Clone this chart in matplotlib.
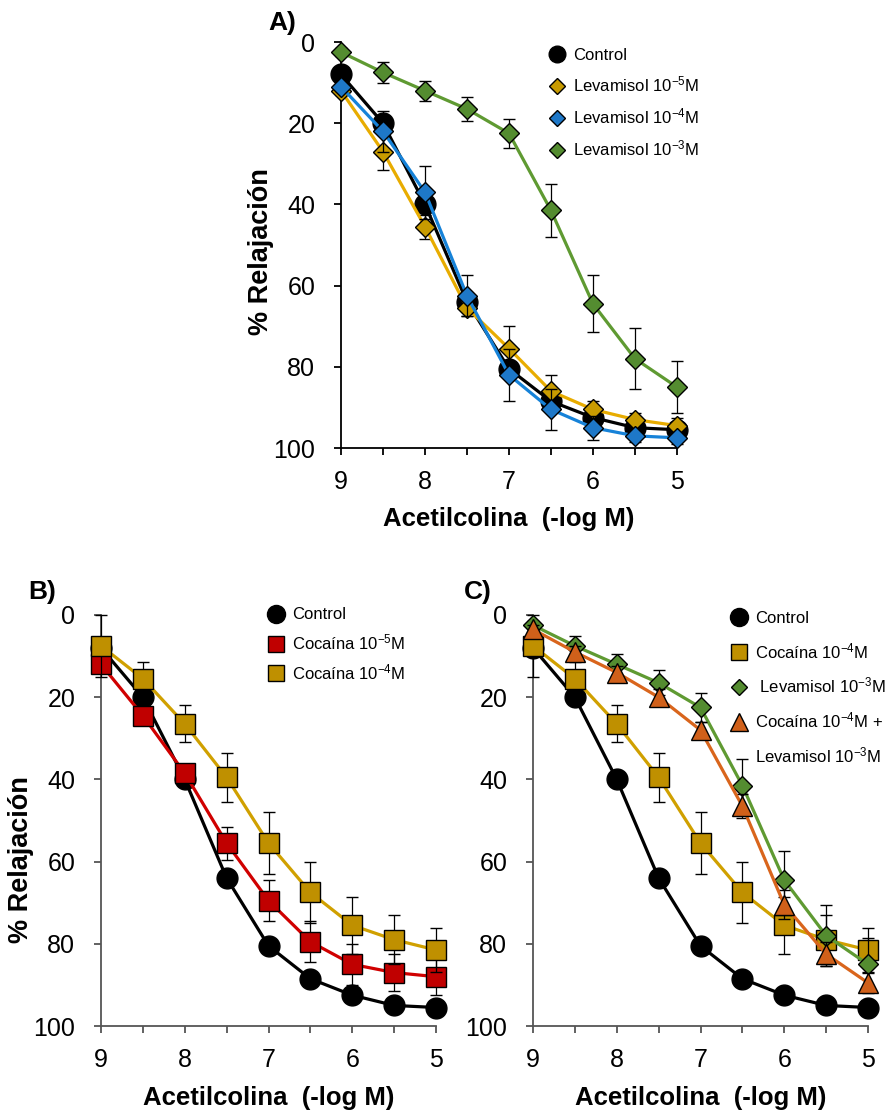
import matplotlib
matplotlib.use('Agg')
import matplotlib.pyplot as plt
from matplotlib.lines import Line2D

plt.rcParams['font.family'] = ['Liberation Sans', 'DejaVu Sans']
plt.rcParams['mathtext.fontset'] = 'custom'
plt.rcParams['mathtext.rm'] = 'Liberation Sans'
plt.rcParams['mathtext.it'] = 'Liberation Sans:italic'
plt.rcParams['mathtext.bf'] = 'Liberation Sans:bold'

# concentraciones de acetilcolina (-log M)
dosis = [9, 8.5, 8, 7.5, 7, 6.5, 6, 5.5, 5]

control = [8, 20, 40, 64, 80.5, 88.5, 92.5, 95, 95.5]
control_err = [1, 1.5, 1.5, 1.5, 1.5, 1, 1, 1, 1]

lev5 = [12, 27, 45.5, 65.5, 75.5, 86, 90.5, 93, 94.5]
lev5_err = [1, 4.5, 3, 2, 5.5, 4, 2, 1.5, 2]
lev4 = [11, 22, 37, 62.5, 82, 90.5, 95, 97, 97.5]
lev4_err = [1, 5, 6.5, 5, 6.5, 5, 3, 1.5, 1.5]
lev3 = [2.5, 7.5, 12, 16.5, 22.5, 41.5, 64.5, 78, 85]
lev3_err = [1, 2.5, 2.5, 3, 3.5, 6.5, 7, 7.5, 6.5]

coc5 = [12, 24.5, 38.5, 55.5, 69.5, 79.5, 85, 87, 88]
coc5_err = [1, 1.5, 1.5, 4, 5, 5, 5, 4.5, 4.5]
coc4 = [7.5, 15.5, 26.5, 39.5, 55.5, 67.5, 75.5, 79, 81.5]
coc4_err = [7.5, 4, 4.5, 6, 7.5, 7.5, 7, 6, 5.3]

coc_lev = [3.5, 9, 14, 20, 28, 46.5, 70.5, 82.5, 89.5]
coc_lev_err = [1, 1.5, 1.5, 2, 2, 3, 3.5, 3, 2.5]

NEGRO = 'black'
ORO = ('#e8ac00', '#c89b00')       # (linea, marcador)
AZUL = ('#1682d8', '#1e78c8')
VERDE = ('#5f9a32', '#548c30')
ROJO = ('#d00000', '#c00000')
MOSTAZA = ('#d0a000', '#bf9000')
NARANJA = ('#d9651c', '#d0601a')

W, H = 891, 1113
fig = plt.figure(figsize=(W / 100, H / 100), dpi=100)


def px_axes(l, r, t, b):
    return fig.add_axes([l / W, 1 - b / H, (r - l) / W, (b - t) / H])


def serie(ax, y, err, linea, cara, marker, ms, z):
    ax.errorbar(dosis, y, yerr=err, color=linea, lw=2.3, marker=marker,
                ms=ms, mfc=cara, mec='black', mew=1.0, ecolor='black',
                elinewidth=0.9, capsize=4.3, capthick=0.9, zorder=z,
                clip_on=False)


def estilo(ax, spine_col, ylabel=True, ylab_y=0.48):
    ax.set_xlim(9, 5)
    ax.set_ylim(100, 0)
    ax.set_xticks([9, 8.5, 8, 7.5, 7, 6.5, 6, 5.5, 5])
    ax.set_xticklabels(['9', '', '8', '', '7', '', '6', '', '5'])
    ax.set_yticks([0, 20, 40, 60, 80, 100])
    for s in ['top', 'right']:
        ax.spines[s].set_visible(False)
    for s in ['left', 'bottom']:
        ax.spines[s].set_color(spine_col)
        ax.spines[s].set_linewidth(1.3)
    ax.tick_params(axis='both', direction='out', length=5, width=1.3,
                   color=spine_col, labelsize=18)
    ax.tick_params(axis='x', pad=11)
    ax.tick_params(axis='y', pad=13.5)
    ax.set_xlabel('Acetilcolina  (-log M)', fontsize=18.5, fontweight='bold')
    ax.xaxis.set_label_coords(0.5, -0.145)
    if ylabel:
        ax.set_ylabel('% Relajación', fontsize=19.5, fontweight='bold')
        ax.yaxis.set_label_coords(-0.2, ylab_y)


def proxy(marker, cara, ms):
    return Line2D([], [], ls='none', marker=marker, ms=ms, mfc=cara,
                  mec='black', mew=1.0)


# ---------------- A ----------------
axA = px_axes(341, 677, 42, 448)
serie(axA, control, control_err, NEGRO, NEGRO, 'o', 15, 3)
serie(axA, lev5, lev5_err, ORO[0], ORO[1], 'D', 10.5, 4)
serie(axA, lev4, lev4_err, AZUL[0], AZUL[1], 'D', 10.5, 5)
serie(axA, lev3, lev3_err, VERDE[0], VERDE[1], 'D', 10.5, 6)
estilo(axA, 'black', ylab_y=0.483)
axA.legend([proxy('o', NEGRO, 12), proxy('D', ORO[1], 8.5),
            proxy('D', AZUL[1], 8.5), proxy('D', VERDE[1], 8.5)],
           ['Control', 'Levamisol 10$^{-5}$M', 'Levamisol 10$^{-4}$M',
            'Levamisol 10$^{-3}$M'],
           loc='upper left', bbox_to_anchor=(0.592, 1.006), frameon=False,
           fontsize=12, borderpad=0, handlelength=1.0, handletextpad=0.5,
           labelspacing=0.72)
fig.text(282 / W, 1 - 23 / H, 'A)', fontsize=19, fontweight='bold',
         ha='center', va='center')

# ---------------- B ----------------
axB = px_axes(101, 436, 615, 1026)
serie(axB, control, control_err, NEGRO, NEGRO, 'o', 15, 3)
serie(axB, coc5, coc5_err, ROJO[0], ROJO[1], 's', 14.5, 4)
serie(axB, coc4, coc4_err, MOSTAZA[0], MOSTAZA[1], 's', 14.5, 5)
estilo(axB, '#555555', ylab_y=0.404)
axB.legend([proxy('o', NEGRO, 13), proxy('s', ROJO[1], 12),
            proxy('s', MOSTAZA[1], 12)],
           ['Control', 'Cocaína 10$^{-5}$M', 'Cocaína 10$^{-4}$M'],
           loc='upper left', bbox_to_anchor=(0.4715, 1.0386), frameon=False,
           fontsize=12, borderpad=0, handlelength=1.0, handletextpad=0.5,
           labelspacing=0.6)
fig.text(42 / W, 1 - 592 / H, 'B)', fontsize=19, fontweight='bold',
         ha='center', va='center')

# ---------------- C ----------------
axC = px_axes(533, 868, 615, 1026)
serie(axC, control, control_err, NEGRO, NEGRO, 'o', 15, 3)
serie(axC, coc4, coc4_err, MOSTAZA[0], MOSTAZA[1], 's', 14.5, 4)
serie(axC, lev3, lev3_err, VERDE[0], VERDE[1], 'D', 10.5, 5)
serie(axC, coc_lev, coc_lev_err, NARANJA[0], NARANJA[1], '^', 14, 6)
estilo(axC, '#555555', ylabel=False)
axC.legend([proxy('o', NEGRO, 13), proxy('s', MOSTAZA[1], 12),
            proxy('D', VERDE[1], 8.5), proxy('^', NARANJA[1], 13),
            Line2D([], [], ls='none')],
           ['Control', 'Cocaína 10$^{-4}$M', ' Levamisol 10$^{-3}$M',
            'Cocaína 10$^{-4}$M +', 'Levamisol 10$^{-3}$M'],
           loc='upper left', bbox_to_anchor=(0.564, 1.03), frameon=False,
           fontsize=12, borderpad=0, handlelength=1.0, handletextpad=0.5,
           labelspacing=0.9)
fig.text(478 / W, 1 - 592 / H, 'C)', fontsize=19, fontweight='bold',
         ha='center', va='center')

fig.savefig('out.png', dpi=100, facecolor='white')
